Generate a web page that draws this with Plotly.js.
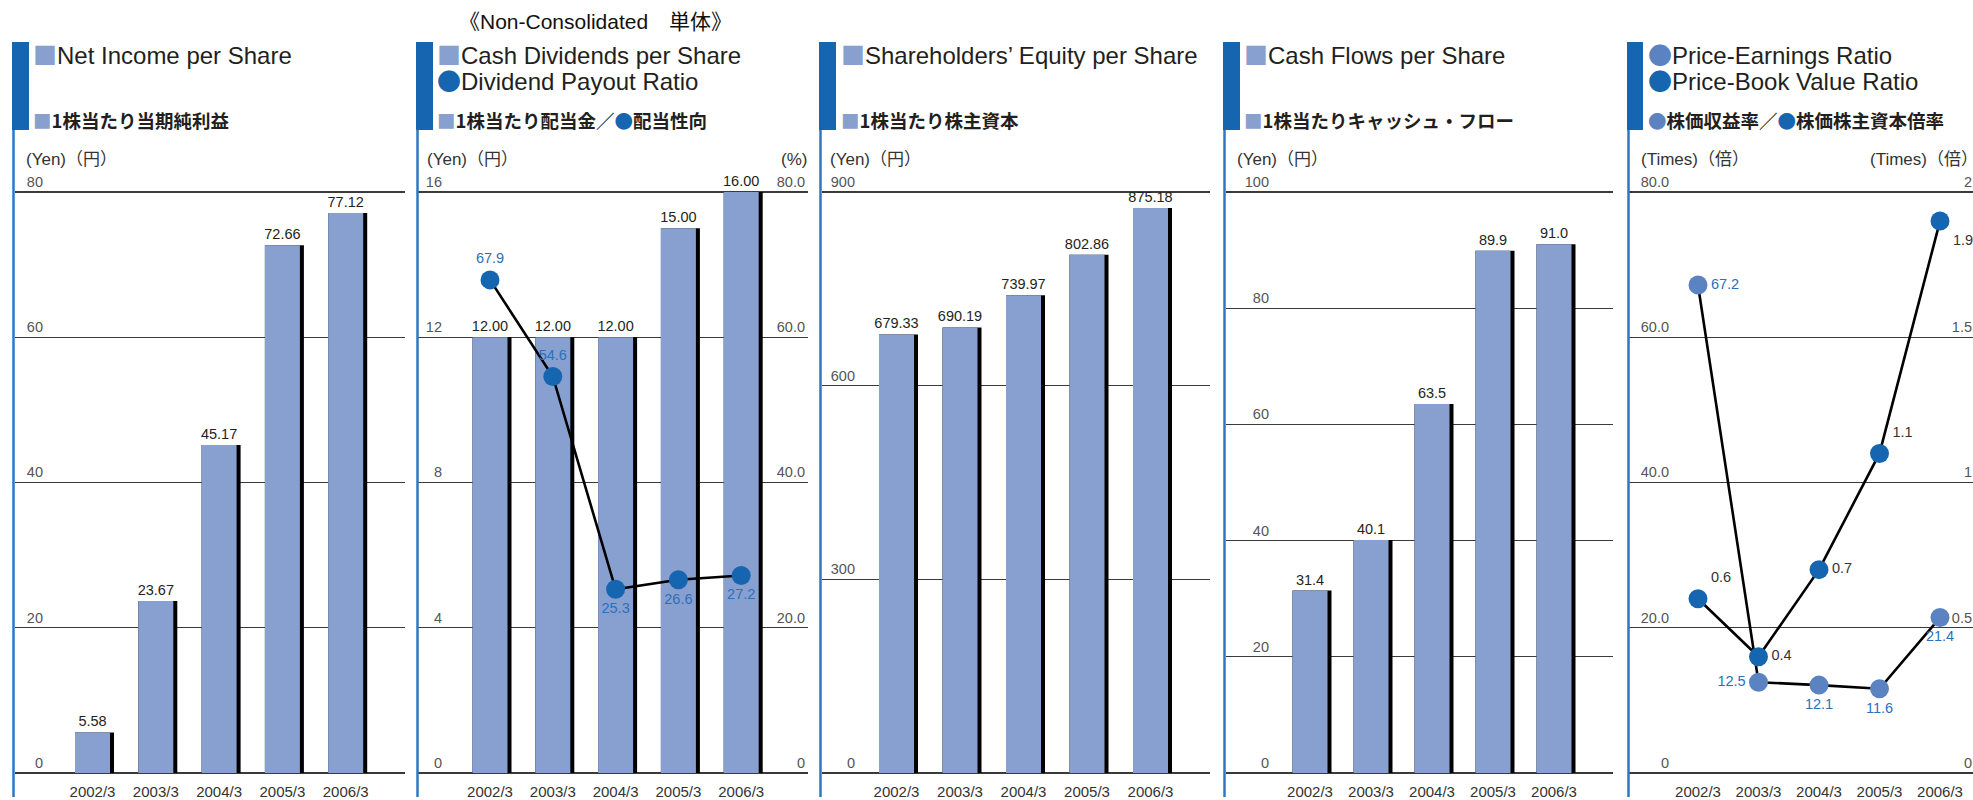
<!DOCTYPE html>
<html><head><meta charset="utf-8">
<script src="https://cdn.plot.ly/plotly-3.0.1.min.js"></script>
<style>html,body{margin:0;padding:0;background:#fff;} #chart{width:1973px;height:800px;}</style>
</head><body><div id="chart"></div>
<script>
// ---------- data ----------
const years = ['2002/3', '2003/3', '2004/3', '2005/3', '2006/3'];
const netIncomePerShare = [5.58, 23.67, 45.17, 72.66, 77.12];
const cashDividendsPerShare = [12.00, 12.00, 12.00, 15.00, 16.00];
const dividendPayoutRatio = [67.9, 54.6, 25.3, 26.6, 27.2];
const equityPerShare = [679.33, 690.19, 739.97, 802.86, 875.18];
const cashFlowsPerShare = [31.4, 40.1, 63.5, 89.9, 91.0];
const priceEarningsRatio = [67.2, 12.5, 12.1, 11.6, 21.4];
const priceBookValueRatio = [0.6, 0.4, 0.7, 1.1, 1.9];

const netIncomeTicks = [0, 20, 40, 60, 80];
const netIncomeTickText = ['0', '20', '40', '60', '80'];
const dividendTicks = [0, 4, 8, 12, 16];
const dividendTickText = ['0', '4', '8', '12', '16'];
const payoutTicks = [0, 20, 40, 60, 80];
const payoutTickText = ['0', '20.0', '40.0', '60.0', '80.0'];
const equityTicks = [0, 300, 600, 900];
const equityTickText = ['0', '300', '600', '900'];
const cashFlowTicks = [0, 20, 40, 60, 80, 100];
const cashFlowTickText = ['0', '20', '40', '60', '80', '100'];
const perTicks = [0, 20, 40, 60, 80];
const perTickText = ['0', '20.0', '40.0', '60.0', '80.0'];
const pbrTicks = [0, 0.5, 1, 1.5, 2];
const pbrTickText = ['0', '0.5', '1', '1.5', '2'];

// ---------- styling / geometry ----------
const W = 1973, H = 800;
const px = x => x / W;
const py = y => 1 - y / H;
const BAR = '#88a0d0', DARK = '#1565b0', PERC = '#5b83c2', LBLUE = '#2a70bd', TXT = '#231f20';
const Y0 = 773, YTOP = 192, DOM_B = 775, DOM_T = 170;
const yDomain = [py(DOM_B), py(DOM_T)];
function yRange(max) { const k = max / (Y0 - YTOP); return [-(DOM_B - Y0) * k, (Y0 - DOM_T) * k]; }

const panels = [
  {left: 15,   right: 405,  c0: 92.5, sp: 63.3, lab: 26},
  {left: 418,  right: 808,  c0: 490,  sp: 62.8, lab: 22},
  {left: 822,  right: 1210, c0: 896.5, sp: 63.5, lab: 31},
  {left: 1226, right: 1613, c0: 1310, sp: 61,   lab: 41},
  {left: 1629, right: 1973, c0: 1698, sp: 60.5, lab: 38}
];
const BLUE_W = 35, SHADOW_W = 4;
const labelFont = {family: 'Liberation Sans, Arial, sans-serif', size: 14.5, color: TXT};

function barPair(p, xa, ya, vals, digits) {
  const P = panels[p];
  const off = -(BLUE_W / 2) / P.sp;
  return [
    {type: 'bar', x: years, y: vals, xaxis: xa, yaxis: ya, width: (BLUE_W + SHADOW_W) / P.sp, offset: off,
     marker: {color: '#000', line: {width: 0}}, hoverinfo: 'skip', showlegend: false},
    {type: 'bar', x: years, y: vals, xaxis: xa, yaxis: ya, width: BLUE_W / P.sp, offset: off,
     marker: {color: BAR, line: {width: 0}}, text: vals.map(v => v.toFixed(digits)),
     textposition: 'outside', constraintext: 'none', cliponaxis: false, textfont: labelFont,
     showlegend: false}
  ];
}
function lineTrace(xa, ya, vals, color, textColor, positions) {
  return {type: 'scatter', mode: 'lines+markers+text', x: years, y: vals, xaxis: xa, yaxis: ya,
    line: {color: '#000', width: 2.6}, marker: {size: 19, color: color},
    text: vals.map(v => v.toFixed(1)), textposition: positions, cliponaxis: false,
    textfont: {family: 'Liberation Sans, Arial, sans-serif', size: 14.5, color: textColor}, showlegend: false};
}

const data = [
  ...barPair(0, 'x', 'y', netIncomePerShare, 2),
  ...barPair(1, 'x2', 'y2', cashDividendsPerShare, 2),
  lineTrace('x2', 'y3', dividendPayoutRatio, DARK, LBLUE, ['top center', 'top center', 'bottom center', 'bottom center', 'bottom center']),
  ...barPair(2, 'x3', 'y4', equityPerShare, 2),
  ...barPair(3, 'x4', 'y5', cashFlowsPerShare, 1),
  lineTrace('x5', 'y6', priceEarningsRatio, PERC, LBLUE, ['middle right', 'middle left', 'bottom center', 'bottom center', 'bottom center']),
  lineTrace('x5', 'y7', priceBookValueRatio, DARK, '#333', ['top right', 'middle right', 'middle right', 'top right', 'bottom right'])
];

const tickFontY = {family: 'Liberation Sans, Arial, sans-serif', size: 14.5, color: '#555'};
const tickFontX = {family: 'Liberation Sans, Arial, sans-serif', size: 15, color: '#333'};
function xAxis(p, anchor) {
  const P = panels[p];
  return {type: 'category', domain: [px(P.left), px(P.right)], range: [-(P.c0 - P.left) / P.sp, (P.right - P.c0) / P.sp],
    anchor: anchor, showgrid: false, zeroline: false, showline: false, ticks: '', tickfont: tickFontX,
    ticklabelstandoff: 6, fixedrange: true};
}
function yLeft(p, anchor, max, tv, tt) {
  return {domain: yDomain, range: yRange(max), anchor: anchor, tickmode: 'array', tickvals: tv, ticktext: tt,
    showgrid: true, gridcolor: '#3a3a3a', gridwidth: 1.2, zeroline: false, showline: false, ticks: '',
    ticklabelposition: 'outside top', ticklabelstandoff: -(panels[p].lab + 3), tickfont: tickFontY, fixedrange: true};
}
function yRight(anchor, over, max, tv, tt, standoff) {
  return {domain: yDomain, range: yRange(max), anchor: anchor, overlaying: over, side: 'right', tickmode: 'array',
    tickvals: tv, ticktext: tt, showgrid: false, zeroline: false, showline: false, ticks: '',
    ticklabelposition: 'inside top', ticklabelstandoff: standoff, tickfont: tickFontY, fixedrange: true};
}

// decorations
const shapes = [];
const bars = [[12, 29], [416, 433], [819, 836], [1223, 1240], [1627, 1643]];
bars.forEach(b => {
  shapes.push({type: 'line', xref: 'paper', yref: 'paper', x0: px(b[0] + 1.5), x1: px(b[0] + 1.5), y0: py(42), y1: py(797),
    line: {color: '#2b78c4', width: 2.5}});
  shapes.push({type: 'rect', xref: 'paper', yref: 'paper', x0: px(b[0]), x1: px(b[1]), y0: py(42), y1: py(130),
    fillcolor: DARK, line: {width: 0}});
});

const CJK = "'Noto Sans CJK JP'";
const sq = c => `<span style="font-family:${CJK};color:${c}">■</span>`;
const dot = c => `<span style="font-family:${CJK};color:${c}">●</span>`;
const titleFont = {family: 'Liberation Sans, Noto Sans CJK JP, sans-serif', size: 24, color: TXT};
const jpFont = {family: 'Noto Sans CJK JP, sans-serif', size: 18.5, color: TXT, weight: 700};
const unitFont = {family: 'Liberation Sans, Noto Sans CJK JP, sans-serif', size: 17, color: '#333'};

function ann(x, y, text, font, xanchor) {
  return {xref: 'paper', yref: 'paper', x: px(x), y: py(y), text: text, showarrow: false,
    xanchor: xanchor || 'left', yanchor: 'middle', font: font};
}
const annotations = [
  ann(595, 22, '《Non-Consolidated　単体》', {family: 'Liberation Sans, Noto Sans CJK JP, sans-serif', size: 21, color: '#111'}, 'center'),
  ann(31, 53, sq(BAR) + 'Net Income per Share', titleFont),
  ann(31, 120, sq(BAR) + '1株当たり当期純利益', jpFont),
  ann(435, 53, sq(BAR) + 'Cash Dividends per Share', titleFont),
  ann(435, 80, dot(DARK) + 'Dividend Payout Ratio', titleFont),
  ann(435, 120, sq(BAR) + '1株当たり配当金／' + dot(DARK) + '配当性向', jpFont),
  ann(839, 53, sq(BAR) + 'Shareholders’ Equity per Share', titleFont),
  ann(839, 120, sq(BAR) + '1株当たり株主資本', jpFont),
  ann(1242, 53, sq(BAR) + 'Cash Flows per Share', titleFont),
  ann(1242, 120, sq(BAR) + '1株当たりキャッシュ・フロー', jpFont),
  ann(1646, 53, dot(PERC) + 'Price-Earnings Ratio', titleFont),
  ann(1646, 80, dot(DARK) + 'Price-Book Value Ratio', titleFont),
  ann(1646, 120, dot(PERC) + '株価収益率／' + dot(DARK) + '株価株主資本倍率', jpFont),
  ann(24, 159, '(Yen)（円）', unitFont),
  ann(425, 159, '(Yen)（円）', unitFont),
  ann(809, 159, '(%)', unitFont, 'right'),
  ann(828, 159, '(Yen)（円）', unitFont),
  ann(1235, 159, '(Yen)（円）', unitFont),
  ann(1639, 159, '(Times)（倍）', unitFont),
  ann(1980, 159, '(Times)（倍）', unitFont, 'right')
];

const layout = {
  width: W, height: H, margin: {l: 0, r: 0, t: 0, b: 0}, paper_bgcolor: '#fff', plot_bgcolor: 'rgba(0,0,0,0)',
  barmode: 'overlay', showlegend: false, shapes: shapes, annotations: annotations,
  xaxis: xAxis(0, 'y'), yaxis: yLeft(0, 'x', 80, netIncomeTicks, netIncomeTickText),
  xaxis2: xAxis(1, 'y2'), yaxis2: yLeft(1, 'x2', 16, dividendTicks, dividendTickText),
  yaxis3: yRight('x2', 'y2', 80, payoutTicks, payoutTickText, 0),
  xaxis3: xAxis(2, 'y4'), yaxis4: yLeft(2, 'x3', 900, equityTicks, equityTickText),
  xaxis4: xAxis(3, 'y5'), yaxis5: yLeft(3, 'x4', 100, cashFlowTicks, cashFlowTickText),
  xaxis5: xAxis(4, 'y6'), yaxis6: yLeft(4, 'x5', 80, perTicks, perTickText),
  yaxis7: yRight('x5', 'y6', 2, pbrTicks, pbrTickText, -2)
};
Plotly.newPlot('chart', data, layout, {staticPlot: true, displayModeBar: false});
</script></body></html>
